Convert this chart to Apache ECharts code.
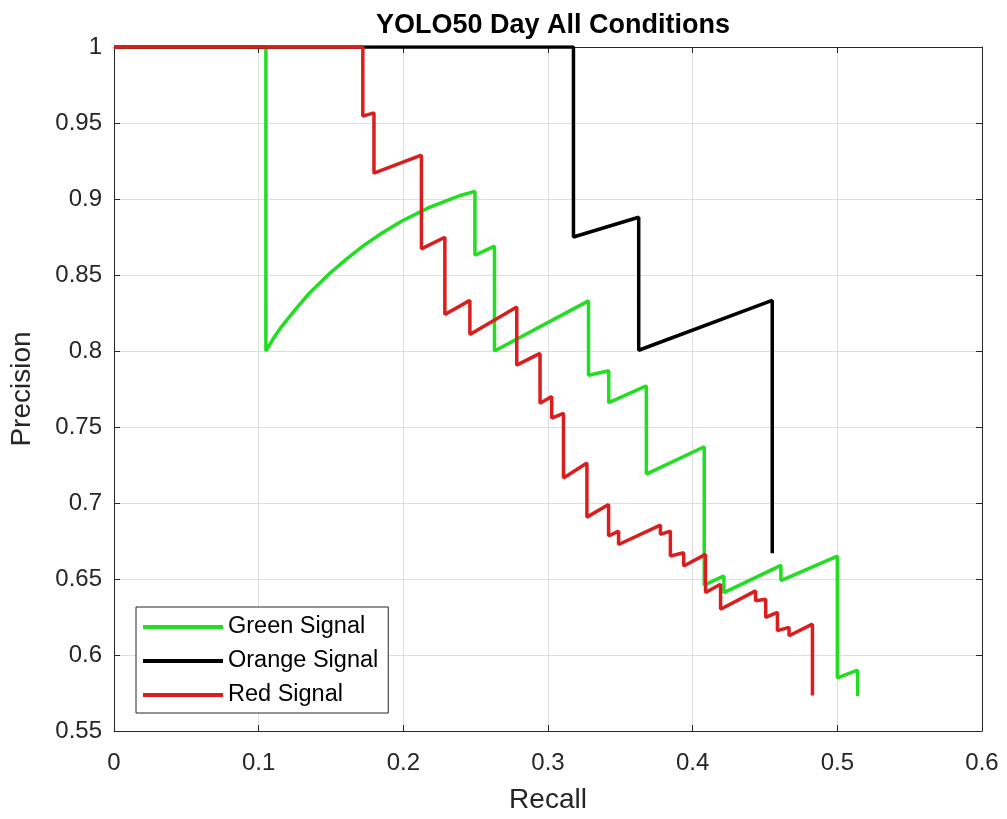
<!DOCTYPE html>
<html>
<head>
<meta charset="utf-8">
<title>YOLO50 Day All Conditions</title>
<script src="https://cdn.jsdelivr.net/npm/echarts@6/dist/echarts.min.js"></script>
<style>
  html, body { margin: 0; padding: 0; background: #fff; }
  #main { width: 1007px; height: 819px; }
</style>
</head>
<body>
<div id="main"></div>
<script>
// values (recall, precision vertices of each PR curve)
var greenRecall = [0, 0.105, 0.105, 0.110, 0.115, 0.120, 0.126, 0.135, 0.149, 0.160, 0.172, 0.185, 0.199, 0.218,
    0.230, 0.240, 0.2495, 0.2495, 0.263, 0.263,
    0.328, 0.328, 0.342, 0.342, 0.368, 0.368, 0.408, 0.408, 0.4216, 0.4216, 0.461, 0.461, 0.500, 0.500, 0.514, 0.514];
var greenPrecision = [1, 1, 0.800, 0.808, 0.815, 0.821, 0.828, 0.838, 0.851, 0.860, 0.869, 0.8775, 0.8855, 0.8945,
    0.899, 0.9025, 0.905, 0.863, 0.869, 0.800,
    0.833, 0.784, 0.787, 0.766, 0.777, 0.719, 0.737, 0.646, 0.652, 0.641, 0.659, 0.649, 0.665, 0.585, 0.590, 0.573];

var orangeRecall = [0, 0.3176, 0.3176, 0.3627, 0.3627, 0.455, 0.455];
var orangePrecision = [1, 1, 0.875, 0.888, 0.8005, 0.8333, 0.667];

var redRecall = [0, 0.172, 0.172, 0.1797, 0.1797, 0.2125, 0.2125, 0.2287, 0.2287, 0.246, 0.246, 0.2784, 0.2784,
    0.2945, 0.2945, 0.3026, 0.3026, 0.3107, 0.3107, 0.3269, 0.3269, 0.3419, 0.3419, 0.3488, 0.3488, 0.3777, 0.3777,
    0.3846, 0.3846, 0.3938, 0.3938, 0.4089, 0.4089, 0.4193, 0.4193, 0.4435, 0.4435, 0.4505, 0.4505, 0.4586, 0.4586,
    0.4666, 0.4666, 0.4828, 0.4828];
var redPrecision = [1, 1, 0.9545, 0.9567, 0.917, 0.9288, 0.8672, 0.8748, 0.824, 0.8333, 0.8108, 0.829, 0.7907,
    0.7984, 0.7656, 0.770, 0.7558, 0.759, 0.7165, 0.7263, 0.6907, 0.699, 0.6783, 0.6815, 0.6727, 0.6855, 0.6793,
    0.6815, 0.6651, 0.6673, 0.6586, 0.6662, 0.6411, 0.6466, 0.6301, 0.6422, 0.6357, 0.6367, 0.6247, 0.628, 0.616,
    0.6182, 0.6127, 0.6203, 0.5734];

var seriesNames = ['Green Signal', 'Orange Signal', 'Red Signal'];
var seriesColors = ['#22dd22', '#000000', '#d91e1e'];

function pairs(xs, ys) {
    var out = [];
    for (var i = 0; i < xs.length; i++) out.push([xs[i], ys[i]]);
    return out;
}

var curves = [
    pairs(greenRecall, greenPrecision),
    pairs(orangeRecall, orangePrecision),
    pairs(redRecall, redPrecision)
];

var font = 'Liberation Sans, Arial, sans-serif';
var axisColor = '#262626';
var gridColor = '#dedede';

function fmt(v) { return String(+v.toFixed(2)); }

var series = [];
for (var i = 0; i < curves.length; i++) {
    series.push({
        name: seriesNames[i],
        type: 'line',
        data: curves[i],
        showSymbol: false,
        symbol: 'none',
        lineStyle: { color: seriesColors[i], width: 3.5 },
        itemStyle: { color: seriesColors[i] },
        xAxisIndex: 0,
        yAxisIndex: 0
    });
}

var option = {
    animation: false,
    backgroundColor: '#fff',
    title: {
        text: 'YOLO50 Day All Conditions',
        left: 548,
        textAlign: 'center',
        top: 7,
        textStyle: { fontFamily: font, fontSize: 27, fontWeight: 'bold', color: '#000' }
    },
    grid: { left: 114, right: 25, top: 47, bottom: 86, containLabel: false },
    legend: {
        orient: 'vertical',
        left: 136,
        top: 607,
        icon: 'rect',
        itemWidth: 80,
        itemHeight: 4,
        itemGap: 10,
        padding: [8, 10, 6, 7],
        backgroundColor: '#fff',
        borderColor: axisColor,
        borderWidth: 1,
        borderRadius: 0,
        data: seriesNames,
        textStyle: { fontFamily: font, fontSize: 23.5, color: '#000', lineHeight: 24 }
    },
    xAxis: [{
        type: 'value',
        min: 0, max: 0.6, interval: 0.1,
        position: 'bottom',
        name: 'Recall',
        nameLocation: 'middle',
        nameGap: 55,
        nameTextStyle: { fontFamily: font, fontSize: 28, color: axisColor },
        axisLine: { show: true, onZero: false, lineStyle: { color: axisColor, width: 1 } },
        axisTick: { show: true, inside: true, length: 6, lineStyle: { color: axisColor } },
        axisLabel: { fontFamily: font, fontSize: 24, color: axisColor, margin: 20, formatter: fmt },
        splitLine: { show: true, lineStyle: { color: gridColor, width: 1 } }
    }, {
        type: 'value',
        min: 0, max: 0.6, interval: 0.1,
        position: 'top',
        axisLine: { show: true, onZero: false, lineStyle: { color: axisColor, width: 1 } },
        axisTick: { show: true, inside: true, length: 6, lineStyle: { color: axisColor } },
        axisLabel: { show: false },
        splitLine: { show: false }
    }],
    yAxis: [{
        type: 'value',
        min: 0.55, max: 1, interval: 0.05,
        position: 'left',
        name: 'Precision',
        nameLocation: 'middle',
        nameGap: 78,
        nameTextStyle: { fontFamily: font, fontSize: 28, color: axisColor },
        axisLine: { show: true, onZero: false, lineStyle: { color: axisColor, width: 1 } },
        axisTick: { show: true, inside: true, length: 6, lineStyle: { color: axisColor } },
        axisLabel: { fontFamily: font, fontSize: 24, color: axisColor, margin: 12, formatter: fmt },
        splitLine: { show: true, lineStyle: { color: gridColor, width: 1 } }
    }, {
        type: 'value',
        min: 0.55, max: 1, interval: 0.05,
        position: 'right',
        axisLine: { show: true, onZero: false, lineStyle: { color: axisColor, width: 1 } },
        axisTick: { show: true, inside: true, length: 6, lineStyle: { color: axisColor } },
        axisLabel: { show: false },
        splitLine: { show: false }
    }],
    series: series
};

var chart = echarts.init(document.getElementById('main'));
chart.setOption(option);
</script>
</body>
</html>
